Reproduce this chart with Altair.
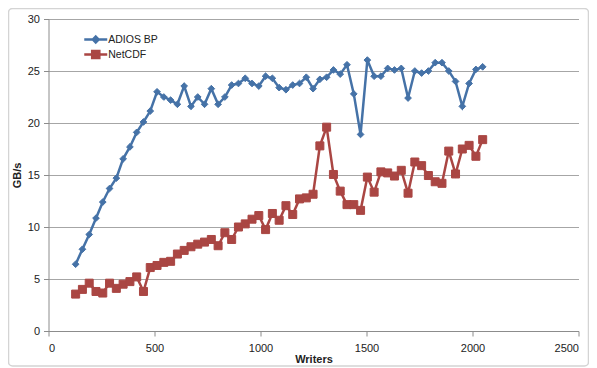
import altair as alt
import pandas as pd

writers = [128, 160, 192, 224, 256, 288, 320, 352, 384, 416, 448, 480, 512, 544, 576, 608,
           640, 672, 704, 736, 768, 800, 832, 864, 896, 928, 960, 992, 1024, 1056, 1088, 1120,
           1152, 1184, 1216, 1248, 1280, 1312, 1344, 1376, 1408, 1440, 1472, 1504, 1536, 1568,
           1600, 1632, 1664, 1696, 1728, 1760, 1792, 1824, 1856, 1888, 1920, 1952, 1984, 2016, 2048]

adios_bp = [6.42, 7.86, 9.28, 10.85, 12.4, 13.7, 14.7, 16.55, 17.7, 19.1, 20.1, 21.15,
            23.0, 22.5, 22.2, 21.8, 23.55, 21.6, 22.5, 21.8, 23.3, 21.8, 22.5, 23.65, 23.8,
            24.3, 23.8, 23.55, 24.5, 24.3, 23.4, 23.2, 23.65, 23.8,
            24.4, 23.3, 24.2, 24.4, 25.1, 24.7, 25.6, 22.8, 18.9, 26.05, 24.5, 24.5, 25.25,
            25.1, 25.25, 22.4, 25.0, 24.8, 25.0, 25.8, 25.8, 25.0, 24.0, 21.6, 23.8, 25.15, 25.4]

netcdf = [3.55, 4.0, 4.6, 3.8, 3.65, 4.6, 4.1, 4.5, 4.75, 5.2,
          3.8, 6.1, 6.3, 6.6, 6.7, 7.4, 7.75, 8.1, 8.35, 8.55,
          8.8, 8.2, 9.45, 8.8, 10.0, 10.3, 10.75, 11.1, 9.75, 11.3,
          10.65, 12.05, 11.2, 12.7, 12.8, 13.15, 17.8, 19.6, 15.05, 13.45,
          12.15, 12.15, 11.6, 14.8, 13.35, 15.3, 15.2, 14.9, 15.45, 13.25,
          16.25, 15.9, 14.95, 14.35, 14.2, 17.3, 15.1, 17.5, 17.85, 16.8, 18.4]

series_names = ["ADIOS BP", "NetCDF"]
series_colors = ["#4572A7", "#AA4643"]
series_shapes = ["diamond", "square"]
series_sizes = [45, 64]

x_ticks = [0, 500, 1000, 1500, 2000, 2500]
y_ticks = [0, 5, 10, 15, 20, 25, 30]

df = pd.concat([
    pd.DataFrame({"writers": writers, "gbs": adios_bp, "series": series_names[0]}),
    pd.DataFrame({"writers": writers, "gbs": netcdf, "series": series_names[1]}),
])

FONT = "Liberation Sans"
cscale = alt.Scale(domain=series_names, range=series_colors)

x_enc = alt.X("writers:Q", scale=alt.Scale(domain=[0, 2500], nice=False),
              axis=alt.Axis(values=x_ticks, format="d", title="Writers", grid=False,
                            titleX=265, titleY=28, titleBaseline="middle",
                            labelPadding=6))
y_enc = alt.Y("gbs:Q", scale=alt.Scale(domain=[0, 30], nice=False),
              axis=alt.Axis(values=y_ticks, format="d", title="GB/s", grid=True,
                            titleX=-31, titleY=156, titleBaseline="middle",
                            labelPadding=4))

sym_expr = ("datum.value === 'ADIOS BP' ? "
            "'M-2,0H2M0,-0.5L0.5,0L0,0.5L-0.5,0Z' : "
            "'M-2,0H2M-0.62,-0.62H0.62V0.62H-0.62Z'")

legend = alt.Legend(title=None, orient="none", legendX=40.25, legendY=13.5,
                    symbolType=alt.ExprRef(sym_expr), symbolSize=132,
                    symbolStrokeWidth=2.5, labelOffset=5.5, rowPadding=-3.5,
                    padding=0, labelFont=FONT, labelFontSize=10.5, labelColor="#222222")

base = alt.Chart(df)

lines = base.mark_line(strokeWidth=2.5).encode(
    x=x_enc, y=y_enc,
    stroke=alt.Stroke("series:N", scale=cscale, legend=legend),
)

point_layers = []
for name, shp, sz in zip(series_names, series_shapes, series_sizes):
    point_layers.append(
        base.transform_filter(alt.datum.series == name)
        .mark_point(filled=True, opacity=1, strokeWidth=1, shape=shp, size=sz)
        .encode(
            x=x_enc, y=y_enc,
            fill=alt.Fill("series:N", scale=cscale, legend=legend),
            stroke=alt.Stroke("series:N", scale=cscale, legend=legend),
        )
    )

frame = alt.Chart(alt.Data(values=[{}])).mark_rect(
    fill="transparent", stroke="#d4d4d4", strokeWidth=1.5, cornerRadius=4
).encode(x=alt.value(-40), x2=alt.value(540), y=alt.value(-10.5), y2=alt.value(347))

chart = alt.layer(frame, lines, *point_layers).properties(
    width=530, height=312,
    padding={"left": 40.5, "top": 11, "right": 10.5, "bottom": 37},
    autosize=alt.AutoSizeParams(type="none"),
).configure_view(stroke=None).configure_axis(
    labelFont=FONT, labelFontSize=11, labelColor="#222222",
    titleFont=FONT, titleFontSize=11, titleFontWeight="bold", titleColor="#222222",
    domainColor="#8c8c8c", tickColor="#8c8c8c", tickSize=5,
    gridColor="#a6a6a6", gridWidth=1,
).configure_axisY(titleAngle=-90)

chart.save("out.html", embed_options={"renderer": "svg", "actions": False})
